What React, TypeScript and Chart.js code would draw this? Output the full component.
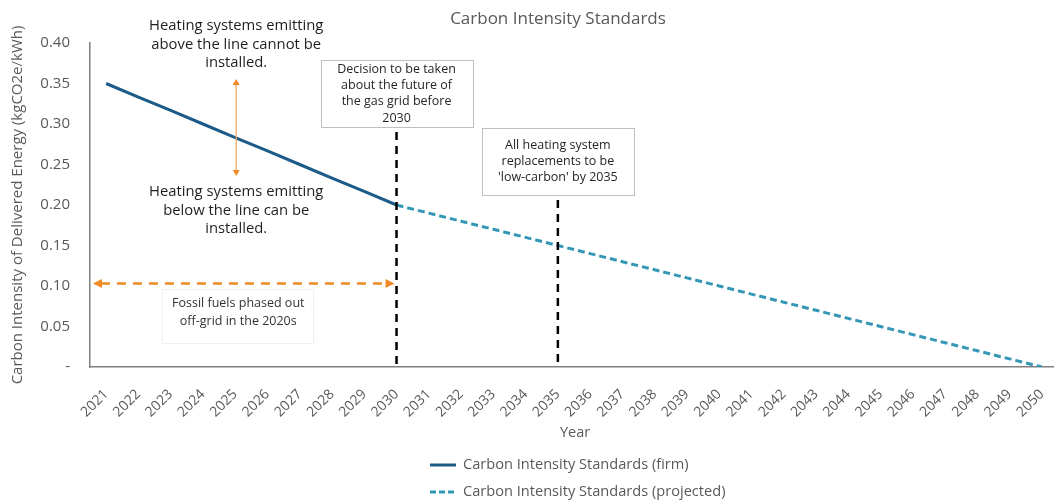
import React, { useEffect, useRef } from 'react';
import { Chart, registerables } from 'chart.js';

Chart.register(...registerables);

const years = [
  '2021', '2022', '2023', '2024', '2025', '2026', '2027', '2028', '2029', '2030',
  '2031', '2032', '2033', '2034', '2035', '2036', '2037', '2038', '2039', '2040',
  '2041', '2042', '2043', '2044', '2045', '2046', '2047', '2048', '2049', '2050',
];

const firmValues = [
  0.35, 0.3333, 0.3167, 0.3, 0.2833, 0.2667, 0.25, 0.2333, 0.2167, 0.2,
  null, null, null, null, null, null, null, null, null, null,
  null, null, null, null, null, null, null, null, null, null,
];

const projectedValues = [
  null, null, null, null, null, null, null, null, null, 0.2,
  0.19, 0.18, 0.17, 0.16, 0.15, 0.14, 0.13, 0.12, 0.11, 0.1,
  0.09, 0.08, 0.07, 0.06, 0.05, 0.04, 0.03, 0.02, 0.01, 0.0,
];

const seriesNames = ['Carbon Intensity Standards (firm)', 'Carbon Intensity Standards (projected)'];
const chartTitle = 'Carbon Intensity Standards';
const yAxisTitle = 'Carbon Intensity of Delivered Energy (kgCO2e/kWh)';
const xAxisTitle = 'Year';

const milestoneYears = ['2030', '2035'];
const milestoneTexts = [
  ['Decision to be taken', 'about the future of', 'the gas grid before', '2030'],
  ["All heating system", 'replacements to be', "'low-carbon' by 2035"],
];
const aboveText = ['Heating systems emitting', 'above the line cannot be', 'installed.'];
const belowText = ['Heating systems emitting', 'below the line can be', 'installed.'];
const offGridText = ['Fossil fuels phased out', 'off-grid in the 2020s'];
const offGridTo = '2030';
const offGridValue = 0.103;
const noteYear = '2025';

const FONT = "'Open Sans', 'Noto Sans', sans-serif";
const FIRM_COLOR = '#1c5b87';
const PROJ_COLOR = '#3497b5';
const GREY = '#595959';
const ORANGE = '#f08a24';
const ORANGE_LIGHT = '#f5a864';

function arrowHead(ctx: CanvasRenderingContext2D, x: number, y: number, angle: number, len: number, half: number, color: string) {
  ctx.save();
  ctx.translate(x, y);
  ctx.rotate(angle);
  ctx.beginPath();
  ctx.moveTo(0, 0);
  ctx.lineTo(-len, -half);
  ctx.lineTo(-len, half);
  ctx.closePath();
  ctx.fillStyle = color;
  ctx.fill();
  ctx.restore();
}

const overlayPlugin = {
  id: 'overlay',
  afterDatasetsDraw(chart: any) {
    const ctx: CanvasRenderingContext2D = chart.ctx;
    const xs = chart.scales.x;
    const ys = chart.scales.y;
    const ca = chart.chartArea;
    const xOf = (label: string) => xs.getPixelForValue(years.indexOf(label));

    ctx.save();

    // Title
    ctx.fillStyle = GREY;
    ctx.font = `17px ${FONT}`;
    ctx.textAlign = 'center';
    ctx.textBaseline = 'middle';
    ctx.fillText(chartTitle, 558, 19);

    // Y axis title
    ctx.save();
    ctx.translate(18, (ca.top + ca.bottom) / 2);
    ctx.rotate(-Math.PI / 2);
    ctx.font = `15px ${FONT}`;
    ctx.fillText(yAxisTitle, 0, 0);
    ctx.restore();

    // X axis title
    ctx.font = `14.5px ${FONT}`;
    ctx.fillText(xAxisTitle, 575, 433);

    // Milestone dashed lines + boxes
    const boxTops = [60, 128];
    const boxHeights = [67, 67];
    milestoneYears.forEach((yr, i) => {
      const x = xOf(yr);
      const top = boxTops[i];
      const h = boxHeights[i];
      ctx.save();
      ctx.strokeStyle = '#000000';
      ctx.lineWidth = 2.5;
      ctx.setLineDash([8, 6]);
      ctx.beginPath();
      ctx.moveTo(x, top + h + 5);
      ctx.lineTo(x, ca.bottom);
      ctx.stroke();
      ctx.restore();

      const w = 152;
      ctx.fillStyle = '#ffffff';
      ctx.fillRect(x - w / 2, top, w, h);
      ctx.strokeStyle = '#bfbfbf';
      ctx.lineWidth = 1;
      ctx.strokeRect(Math.round(x - w / 2) + 0.5, top + 0.5, w, h);
      ctx.fillStyle = '#262626';
      ctx.font = `12.5px ${FONT}`;
      ctx.textAlign = 'center';
      ctx.textBaseline = 'middle';
      const lines = milestoneTexts[i];
      const lh = 16.3;
      const startY = top + h / 2 - ((lines.length - 1) * lh) / 2;
      lines.forEach((t, j) => ctx.fillText(t, x, startY + j * lh));
    });

    // Orange horizontal double arrow
    const ay = ys.getPixelForValue(offGridValue);
    const ax1 = ca.left + 3;
    const ax2 = xOf(offGridTo) - 2;
    ctx.save();
    ctx.strokeStyle = ORANGE;
    ctx.lineWidth = 2.5;
    ctx.setLineDash([9, 7]);
    ctx.beginPath();
    ctx.moveTo(ax1 + 8, ay);
    ctx.lineTo(ax2 - 8, ay);
    ctx.stroke();
    ctx.restore();
    arrowHead(ctx, ax1, ay, Math.PI, 9, 4.5, ORANGE);
    arrowHead(ctx, ax2, ay, 0, 9, 4.5, ORANGE);

    // Fossil fuels text with faint box
    const fx = (ca.left + xOf(offGridTo)) / 2 - 5;
    ctx.strokeStyle = '#f0f0f0';
    ctx.lineWidth = 1;
    ctx.strokeRect(162.5, 289.5, 151, 54);
    ctx.fillStyle = '#333333';
    ctx.font = `12.5px ${FONT}`;
    ctx.textAlign = 'center';
    offGridText.forEach((t, j) => ctx.fillText(t, fx, 303 + j * 18.5));

    // Vertical light orange arrow
    const vx = xOf(noteYear) + 1;
    ctx.strokeStyle = ORANGE_LIGHT;
    ctx.lineWidth = 1.3;
    ctx.beginPath();
    ctx.moveTo(vx, 85);
    ctx.lineTo(vx, 170);
    ctx.stroke();
    arrowHead(ctx, vx, 79, -Math.PI / 2, 6, 3.5, ORANGE);
    arrowHead(ctx, vx, 176, Math.PI / 2, 6, 3.5, ORANGE);

    // Big notes
    ctx.fillStyle = '#1f1f1f';
    ctx.font = `14.8px ${FONT}`;
    aboveText.forEach((t, j) => ctx.fillText(t, vx, 26 + j * 18.5));
    belowText.forEach((t, j) => ctx.fillText(t, vx, 192 + j * 18.5));

    // Legend
    const lx = 430;
    const legendY = [465, 492];
    ctx.font = `14.6px ${FONT}`;
    ctx.textAlign = 'left';
    [FIRM_COLOR, PROJ_COLOR].forEach((c, i) => {
      ctx.save();
      ctx.strokeStyle = c;
      ctx.lineWidth = 3;
      if (i === 1) ctx.setLineDash([6, 3]);
      ctx.beginPath();
      ctx.moveTo(lx, legendY[i]);
      ctx.lineTo(lx + 26, legendY[i]);
      ctx.stroke();
      ctx.restore();
      ctx.fillStyle = GREY;
      ctx.fillText(seriesNames[i], lx + 33, legendY[i]);
    });

    ctx.restore();
  },
};

export default function App() {
  const canvasRef = useRef<HTMLCanvasElement>(null);

  useEffect(() => {
    const canvas = canvasRef.current;
    if (!canvas) return;
    Chart.defaults.font.family = FONT;
    const chart = new Chart(canvas, {
      type: 'line',
      data: {
        labels: years,
        datasets: [
          {
            label: seriesNames[0],
            data: firmValues,
            borderColor: FIRM_COLOR,
            backgroundColor: FIRM_COLOR,
            borderWidth: 3,
            pointRadius: 0,
            tension: 0,
            spanGaps: false,
          },
          {
            label: seriesNames[1],
            data: projectedValues,
            borderColor: PROJ_COLOR,
            backgroundColor: PROJ_COLOR,
            borderWidth: 3,
            borderDash: [7, 4],
            pointRadius: 0,
            tension: 0,
            spanGaps: false,
          },
        ],
      },
      options: {
        responsive: false,
        animation: false,
        layout: { padding: { left: 0, top: 43, right: 4, bottom: 0 } },
        plugins: {
          legend: { display: false },
          title: { display: false },
          tooltip: { enabled: false },
        },
        scales: {
          x: {
            type: 'category',
            offset: true,
            grid: { display: false, drawTicks: false },
            border: { display: true, color: '#808080', width: 1.5 },
            ticks: {
              autoSkip: false,
              maxRotation: 45,
              minRotation: 45,
              padding: 19,
              color: GREY,
              font: { size: 14, family: FONT },
            },
            afterFit: (scale: any) => {
              scale.height = 136;
              scale.paddingLeft = 0;
              scale.paddingRight = 0;
            },
          },
          y: {
            min: 0,
            max: 0.4,
            grid: { display: false, drawTicks: false },
            border: { display: true, color: '#808080', width: 1.5 },
            ticks: {
              stepSize: 0.05,
              padding: 20,
              color: GREY,
              font: { size: 15, family: FONT },
              callback: (v: any) => (Math.abs(Number(v)) < 1e-9 ? '-' : Number(v).toFixed(2)),
            },
            afterFit: (scale: any) => {
              scale.width = 90;
              scale.paddingTop = 0;
              scale.paddingBottom = 0;
            },
          },
        },
      },
      plugins: [overlayPlugin],
    });
    return () => chart.destroy();
  }, []);

  return (
    <div style={{ position: 'fixed', left: 0, top: 0, width: 1054, height: 503, overflow: 'hidden', background: '#ffffff' }}>
      <canvas ref={canvasRef} width={1062} height={503} style={{ display: 'block', width: 1062, height: 503 }} />
    </div>
  );
}
